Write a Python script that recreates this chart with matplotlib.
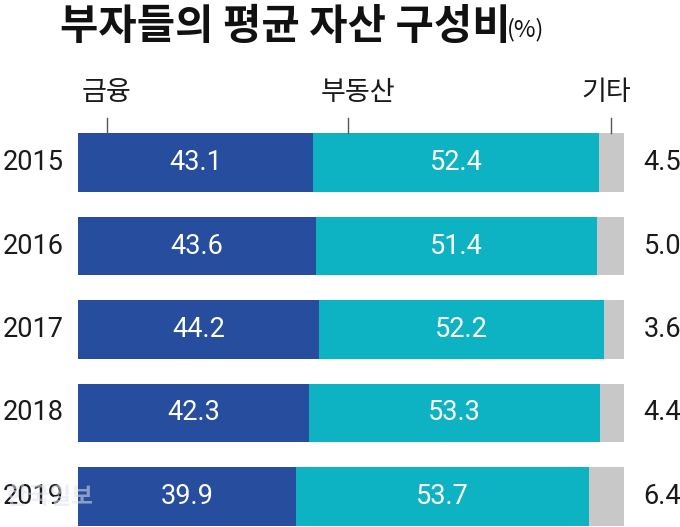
import matplotlib
matplotlib.use("Agg")
import matplotlib.pyplot as plt

plt.rcParams["font.family"] = ["Noto Sans CJK KR", "DejaVu Sans"]

years = ["2015", "2016", "2017", "2018", "2019"]
finance = [43.1, 43.6, 44.2, 42.3, 39.9]
realty = [52.4, 51.4, 52.2, 53.3, 53.7]
other = [4.5, 5.0, 3.6, 4.4, 6.4]
categories = ["금융", "부동산", "기타"]

c_fin = "#264d9e"
c_real = "#0db3c3"
c_oth = "#c8c8c8"

W, H = 680, 527
fig = plt.figure(figsize=(W / 100, H / 100), dpi=100)
# x: 0..100 -> 78..624 px ; rows every 83.5 px, first centre at 162.5 px
ax = fig.add_axes([78 / W, 0, 546 / W, 1])
ax.set_xlim(0, 100)
ax.set_ylim((H - 162.5) / 83.5, -162.5 / 83.5)
ax.axis("off")

ys = list(range(len(years)))
bh = 0.695
ax.barh(ys, finance, height=bh, color=c_fin, linewidth=0)
ax.barh(ys, realty, left=finance, height=bh, color=c_real, linewidth=0)
left3 = [a + b for a, b in zip(finance, realty)]
ax.barh(ys, other, left=left3, height=bh, color=c_oth, linewidth=0)

num_style = dict(fontsize=19.5, va="center", clip_on=False,
                 family=["Roboto", "DejaVu Sans"])
for i in ys:
    ax.text(finance[i] / 2, i, f"{finance[i]:.1f}", ha="center", color="white", **num_style)
    ax.text(finance[i] + realty[i] / 2, i, f"{realty[i]:.1f}", ha="center", color="white", **num_style)
    ax.text(103.6, i, f"{other[i]:.1f}", ha="left", color="#1a1a1a", **num_style)
    ax.text(-2.7, i, years[i], ha="right", color="#1a1a1a", **num_style)

# category markers above first bar
tick_x = [5.3, 49.5, 97.6]
label_x = [5.3, 51.3, 96.8]
for tx, lx, name in zip(tick_x, label_x, categories):
    ax.plot([tx, tx], [-0.535, -0.35], color="#555555", linewidth=1, clip_on=False)
    ax.text(lx, -0.84, name, ha="center", va="center", fontsize=19.5,
            color="#1a1a1a", fontweight="light", clip_on=False)

fig.text(60 / W, 1 - 27 / H, "부자들의 평균 자산 구성비", fontsize=30,
         fontweight="bold", ha="left", va="center", color="#111111")
fig.text(507 / W, 1 - 30 / H, "(%)", fontsize=17, ha="left", va="center",
         color="#111111", fontweight="light")

# faint watermark
fig.text(6 / W, 1 - 497 / H, "한국일보", fontsize=17, fontweight="bold",
         color="#dde2ea", alpha=0.55, ha="left", va="center", zorder=10)

fig.savefig("out.png", dpi=100)
